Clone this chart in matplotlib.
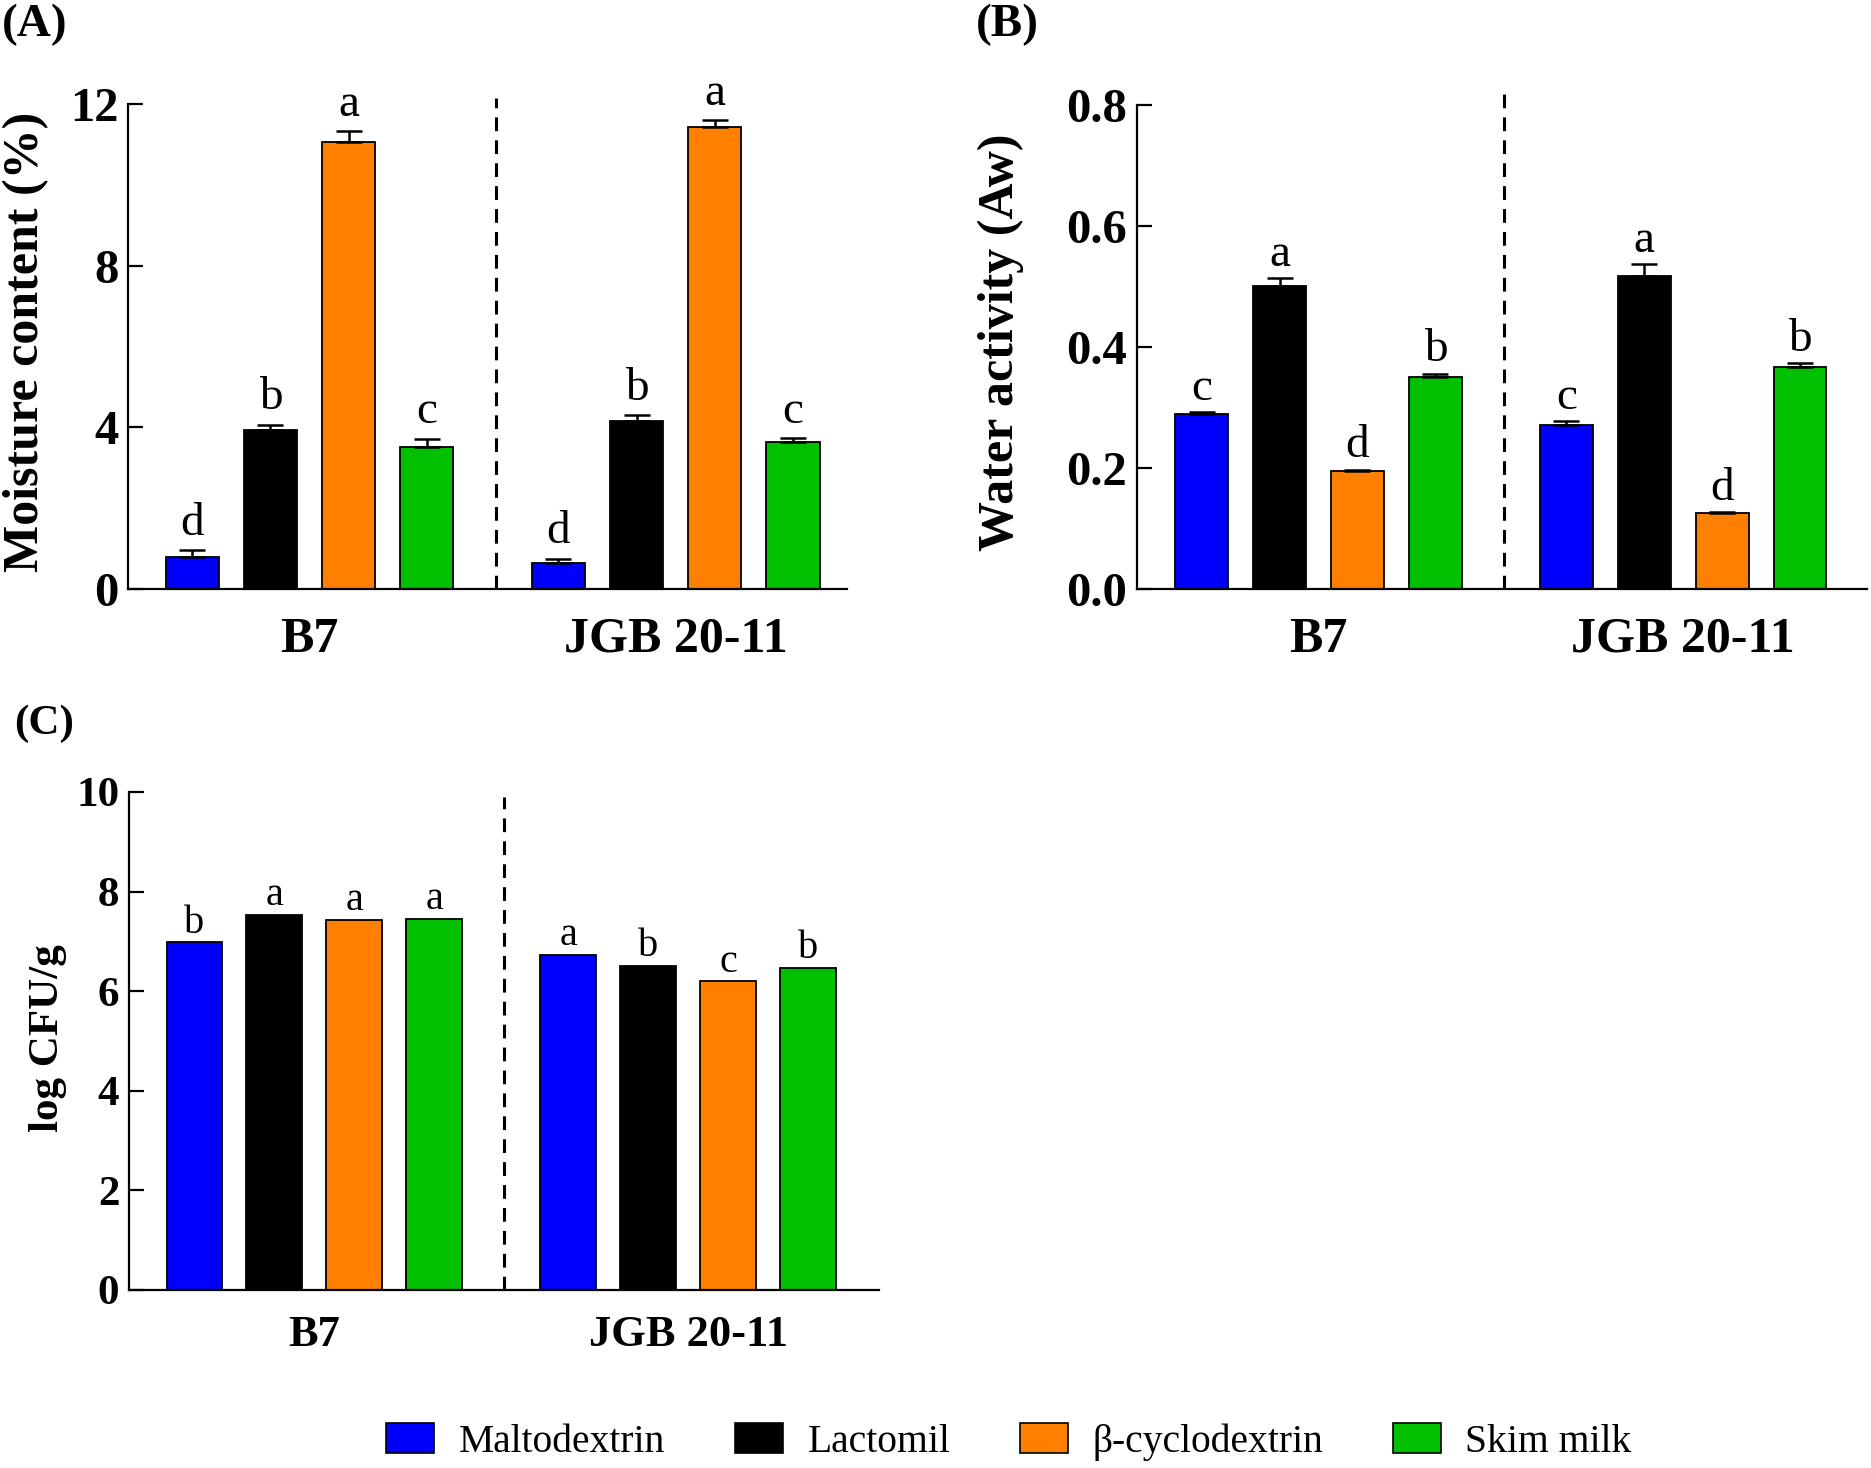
import numpy as np
import matplotlib
matplotlib.use("Agg")
import matplotlib.pyplot as plt
from matplotlib.patches import Patch

plt.rcParams['font.family'] = ['Liberation Serif', 'DejaVu Serif']

# ---------------- data ----------------
strains = ["B7", "JGB 20-11"]
carriers = ["Maltodextrin", "Lactomil", "\u03b2-cyclodextrin", "Skim milk"]
colors = ["#0000FF", "#000000", "#FF8000", "#00C000"]

moist_b7 = [0.80, 3.94, 11.07, 3.52]
moist_b7_err = [0.16, 0.13, 0.25, 0.20]
moist_jgb = [0.65, 4.15, 11.44, 3.63]
moist_jgb_err = [0.10, 0.16, 0.16, 0.10]
moist_letters_b7 = ["d", "b", "a", "c"]
moist_letters_jgb = ["d", "b", "a", "c"]

aw_b7 = [0.290, 0.501, 0.195, 0.350]
aw_b7_err = [0.002, 0.013, 0.002, 0.006]
aw_jgb = [0.271, 0.518, 0.125, 0.367]
aw_jgb_err = [0.006, 0.019, 0.002, 0.006]
aw_letters_b7 = ["c", "a", "d", "b"]
aw_letters_jgb = ["c", "a", "d", "b"]

cfu_b7 = [6.98, 7.53, 7.43, 7.45]
cfu_jgb = [6.73, 6.51, 6.20, 6.47]
cfu_letters_b7 = ["b", "a", "a", "a"]
cfu_letters_jgb = ["a", "b", "c", "b"]

moist_ticks = [0, 4, 8, 12]
aw_ticks = [0.0, 0.2, 0.4, 0.6, 0.8]
cfu_ticks = [0, 2, 4, 6, 8, 10]

# ---------------- figure ----------------
fig = plt.figure(figsize=(18.71, 14.68), dpi=100)

GROUP_SHIFT = 4.68
pos1 = np.arange(4)
pos2 = np.arange(4) + GROUP_SHIFT
group_centers = [pos1.mean(), pos2.mean()]


def panel(rect, v1, v2, e1, e2, l1, l2, ticks, fmt, ylim, xlim, width,
          ylabel_size, tick_size, group_size, letter_size, letter_off,
          dash_top, group_pad):
    ax = fig.add_axes(rect)
    vals = list(v1) + list(v2)
    pos = np.concatenate([pos1, pos2])
    cols = colors + colors
    ax.bar(pos, vals, width=width, color=cols, edgecolor="black",
           linewidth=1.3, zorder=2)
    if e1 is not None:
        errs = list(e1) + list(e2)
        ax.errorbar(pos, vals, yerr=[np.zeros(len(errs)), errs], fmt="none",
                    ecolor="black", elinewidth=1.8, capsize=9.5, capthick=1.8,
                    zorder=3)
        tops = np.array(vals) + np.array(errs)
    else:
        tops = np.array(vals)
    for x, t, s in zip(pos, tops, list(l1) + list(l2)):
        ax.annotate(s, (x, t), xytext=(0, letter_off),
                    textcoords="offset points", ha="center", va="baseline",
                    fontsize=letter_size)
    ax.set_xlim(*xlim)
    ax.set_ylim(*ylim)
    ax.set_yticks(ticks)
    ax.set_yticklabels([fmt.format(t) for t in ticks], fontsize=tick_size,
                       fontweight="bold")
    ax.set_xticks(group_centers)
    ax.set_xticklabels(strains, fontsize=group_size, fontweight="bold")
    ax.tick_params(axis="x", length=0, pad=group_pad)
    ax.tick_params(axis="y", direction="in", length=11, width=1.6, pad=7)
    for side in ("top", "right"):
        ax.spines[side].set_visible(False)
    for side in ("left", "bottom"):
        ax.spines[side].set_linewidth(1.6)
    ax.plot([3.88, 3.88], [ylim[0], dash_top], color="black", lw=2.2,
            ls=(0, (4.5, 3)), clip_on=False, zorder=1)
    return ax


# Panel A
axA = panel([128 / 1871, 879 / 1468, 719 / 1871, 485 / 1468],
            moist_b7, moist_jgb, moist_b7_err, moist_jgb_err,
            moist_letters_b7, moist_letters_jgb,
            moist_ticks, "{:d}", (0, 12), (-0.82, 8.37), 0.68,
            36, 35, 36, 34, 11, 12.15, 20)
# Panel B
axB = panel([1137 / 1871, 879 / 1468, 730 / 1871, 484 / 1468],
            aw_b7, aw_jgb, aw_b7_err, aw_jgb_err,
            aw_letters_b7, aw_letters_jgb,
            aw_ticks, "{:.1f}", (0, 0.8), (-0.83, 8.54), 0.68,
            36, 35, 36, 34, 9, 0.818, 20)
# Panel C
axC = panel([129 / 1871, 178 / 1468, 750 / 1871, 498 / 1468],
            cfu_b7, cfu_jgb, None, None,
            cfu_letters_b7, cfu_letters_jgb,
            cfu_ticks, "{:d}", (0, 10), (-0.82, 8.57), 0.70,
            31, 31, 32, 29, 7, 9.9, 18)

# y labels
fig.text(26 / 1871, (1468 - 342) / 1468, "Moisture content (%)", rotation=90,
         ha="center", va="center", fontsize=36, fontweight="bold")
fig.text(1001 / 1871, (1468 - 342) / 1468, "Water activity (Aw)", rotation=90,
         ha="center", va="center", fontsize=36, fontweight="bold")
fig.text(48 / 1871, (1468 - 1038) / 1468, "log CFU/g", rotation=90,
         ha="center", va="center", fontsize=31, fontweight="bold")

# panel labels
fig.text(2 / 1871, (1468 - 25) / 1468, "(A)", ha="left", va="center",
         fontsize=34, fontweight="bold")
fig.text(976 / 1871, (1468 - 25) / 1468, "(B)", ha="left", va="center",
         fontsize=34, fontweight="bold")
fig.text(14 / 1871, (1468 - 724) / 1468, "(C)", ha="left", va="center",
         fontsize=31, fontweight="bold")

# legend
handles = [Patch(facecolor=c, edgecolor="black", linewidth=1.2) for c in colors]
fig.legend(handles, carriers, loc="center", bbox_to_anchor=(1009 / 1871, 26 / 1468),
           ncol=4, frameon=False, fontsize=28.5, handlelength=1.21,
           handleheight=0.76, handletextpad=0.63, columnspacing=1.75,
           borderaxespad=0, borderpad=0)

fig.savefig("out.png", dpi=100)
